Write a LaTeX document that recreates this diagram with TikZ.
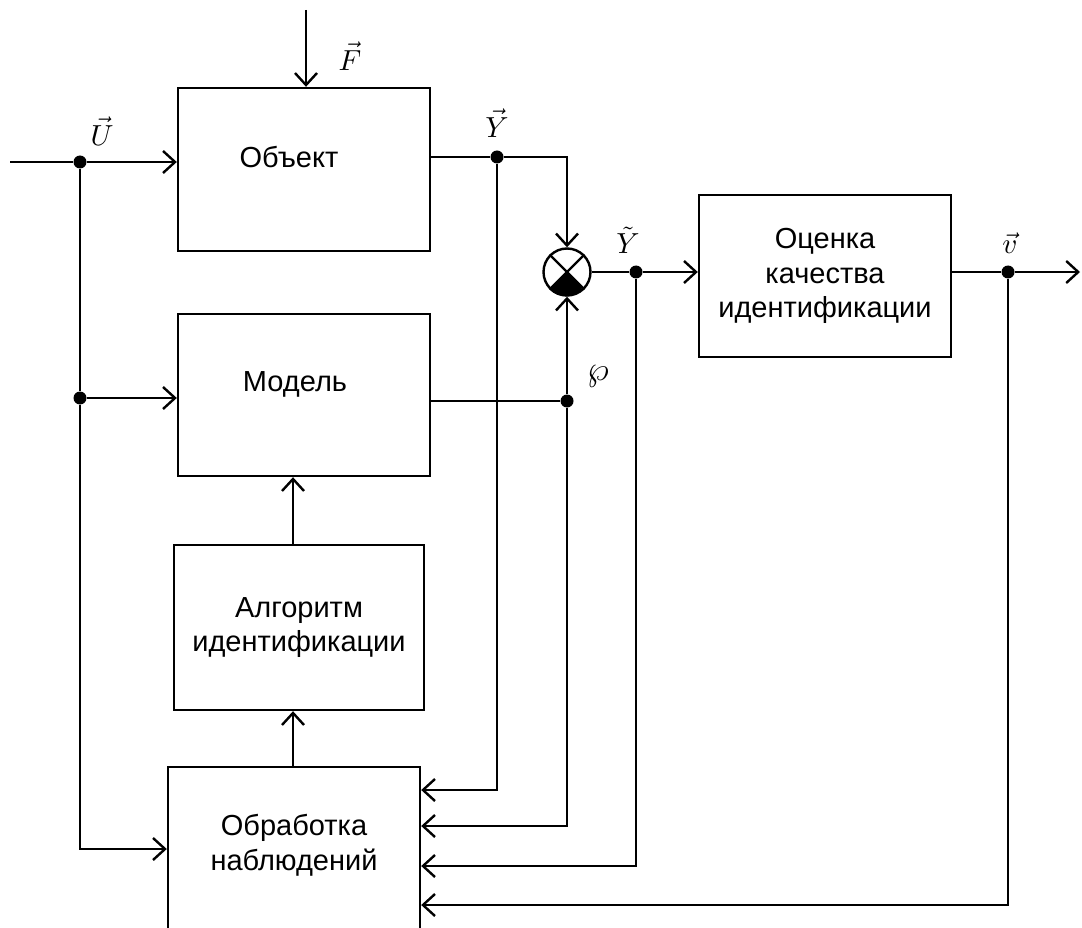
\documentclass[tikz,border=0pt]{standalone}
\usepackage{fontspec}
\setmainfont{Liberation Sans}
\usetikzlibrary{arrows.meta,calc}
\newcommand{\lblmath}[1]{\scalebox{2.9}{$#1$}}
\begin{document}
\begin{tikzpicture}[x=1pt,y=-1pt,
  lw/.style={line width=2.4pt},
  box/.style={draw,line width=2.4pt,minimum width=252pt,align=center,
    font=\fontsize{29}{34.5}\selectfont,inner sep=0pt},
  txt/.style={align=center,font=\fontsize{29}{34.5}\selectfont,inner sep=0pt},
  arr/.style={lw,-{Straight Barb[length=12pt,width=22pt,line width=2.4pt]}},
  dot/.style={circle,fill=black,inner sep=0pt,minimum size=13pt},
  lbl/.style={inner sep=0pt}]
\useasboundingbox (0,0) rectangle (1082,928);
\clip (0,0) rectangle (1082,928);
\fill[white] (0,0) rectangle (1082,928);
% boxes
\node[box,minimum height=163pt] (obj) at (304,169.5) {};
\node[txt] (objt) at (289,157) {Объект};
\node[box,minimum height=162pt] (mod) at (304,395) {};
\node[txt] (modt) at (295,384) {Модель};
\node[box,minimum width=250pt,minimum height=165pt] (alg) at (299,627.5) {Алгоритм\\идентификации};
\node[box,minimum height=246pt] (obr) at (294,890) {};
\node[txt] (obrt) at (294,845) {Обработка\\наблюдений};
\node[box,minimum height=162pt] (ocn) at (825,276) {Оценка\\качества\\идентификации};
% summator
\node[draw,circle,lw,minimum size=47pt,inner sep=0pt] (sum) at (567,272) {};
\fill (sum.center) -- (sum.225) arc[start angle=225,end angle=315,radius=23.5pt] -- cycle;
\draw[lw] (sum.45) -- (sum.225) (sum.135) -- (sum.315);
% coordinates
\coordinate (uin) at (10,162);
\coordinate (fin) at (306,10);
\coordinate (yo) at (430,157);
\coordinate (ycorner) at (567,157);
\coordinate (mo) at (430,401);
\coordinate (vout) at (1080,272);
\coordinate (xa) at (293,0);
\node[dot] (udot) at (80,162) {};
\node[dot] (umdot) at (80,398) {};
\node[dot] (ydot) at (497,157) {};
\node[dot] (mdot) at (567,401) {};
\node[dot] (ytdot) at (636,272) {};
\node[dot] (vdot) at (1008,272) {};
\coordinate (e0) at (0,849);
\coordinate (e1) at (0,790);
\coordinate (e2) at (0,826);
\coordinate (e3) at (0,866);
\coordinate (e4) at (0,905);
% connectors
\draw[arr] (fin) -- (obj.north -| fin);
\draw[lw] (uin) -- (udot);
\draw[arr] (udot) -- (obj.west |- udot);
\draw[lw] (udot) -- (umdot);
\draw[arr] (umdot) -- (mod.west |- umdot);
\draw[arr] (umdot) |- (obr.west |- e0);
\draw[lw] (yo) -- (ydot);
\draw[arr] (ydot) -- (ycorner) -- (sum.north);
\draw[arr] (ydot) |- (obr.east |- e1);
\draw[lw] (mo) -- (mdot);
\draw[arr] (mdot) -- (sum.south);
\draw[arr] (mdot) |- (obr.east |- e2);
\draw[lw] (sum.east) -- (ytdot);
\draw[arr] (ytdot) -- (ocn.west |- ytdot);
\draw[arr] (ytdot) |- (obr.east |- e3);
\draw[lw] (ocn.east |- vdot) -- (vdot);
\draw[arr] (vdot) -- (vout);
\draw[arr] (vdot) |- (obr.east |- e4);
\draw[arr] (alg.north -| xa) -- (mod.south -| xa);
\draw[arr] (obr.north -| xa) -- (alg.south -| xa);
% labels
\node[lbl] (lf) at (350,56) {\lblmath{\vec F}};
\node[lbl] (lu) at (102,131) {\lblmath{\vec U}};
\node[lbl] (ly) at (497,123) {\lblmath{\vec Y}};
\node[lbl] (lyt) at (628,240) {\lblmath{\tilde Y}};
\node[lbl] (lwp) at (598,376) {\scalebox{3.4}{$\wp$}};
\node[lbl] (lv) at (1010,243) {\lblmath{\vec v}};
\end{tikzpicture}
\end{document}
